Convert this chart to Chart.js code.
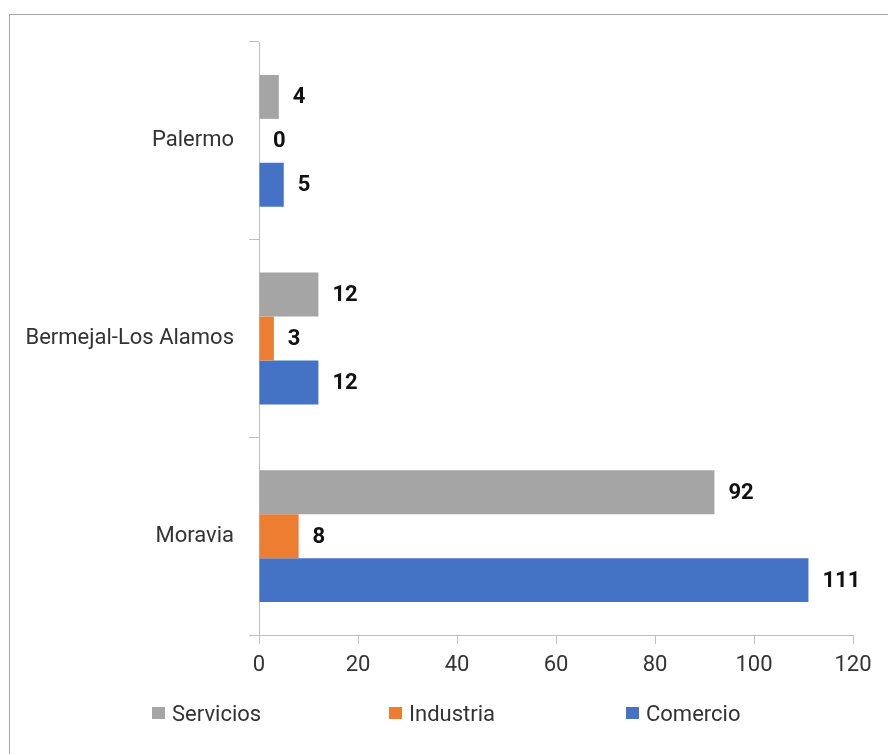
<!DOCTYPE html>
<html>
<head>
<meta charset="utf-8">
<script src="https://cdn.jsdelivr.net/npm/chart.js@4/dist/chart.umd.min.js"></script>
<style>
  html, body { margin: 0; padding: 0; background: #fff; }
  body { width: 888px; height: 754px; position: relative; overflow: hidden; font-family: Roboto, "Liberation Sans", sans-serif; }
  #frame { position: absolute; left: 9px; top: 14px; width: 900px; height: 760px; border: 1px solid #a6a6a6; box-sizing: border-box; }
  #wrap { position: absolute; left: 0; top: 0; width: 888px; height: 754px; }
  #legend { position: absolute; top: 700px; left: 0; width: 888px; height: 26px; }
  .item { position: absolute; top: 0; display: flex; align-items: center; height: 26px; font-size: 22px; color: #333; }
  .swatch { width: 13px; height: 12px; margin-right: 7px; }
</style>
</head>
<body>
<div id="frame"></div>
<div id="wrap"><canvas id="chart" width="888" height="754"></canvas></div>
<div id="legend"></div>
<script>
// Barrios (top to bottom) and the three sectors
const categories = ['Palermo', 'Bermejal-Los Alamos', 'Moravia'];
const seriesNames = ['Servicios', 'Industria', 'Comercio'];
const servicios = [4, 12, 92];
const industria = [0, 3, 8];
const comercio = [5, 12, 111];
const seriesColors = ['#A5A5A5', '#ED7D31', '#4472C4'];
const xTicks = [0, 20, 40, 60, 80, 100, 120];

const seriesValues = [servicios, industria, comercio];
const axisColor = '#bfbfbf';
const textColor = '#333333';
const fontFamily = 'Roboto, "Liberation Sans", sans-serif';

// Value labels drawn just past the end of every bar
const valueLabels = {
  id: 'valueLabels',
  afterDatasetsDraw(chart) {
    const ctx = chart.ctx;
    ctx.save();
    ctx.font = 'bold 22px ' + fontFamily;
    ctx.fillStyle = '#111';
    ctx.textAlign = 'left';
    ctx.textBaseline = 'middle';
    chart.data.datasets.forEach((ds, i) => {
      chart.getDatasetMeta(i).data.forEach((bar, j) => {
        ctx.fillText(String(ds.data[j]), bar.x + 14, bar.y + 1);
      });
    });
    ctx.restore();
  }
};

new Chart(document.getElementById('chart'), {
  type: 'bar',
  data: {
    labels: categories,
    datasets: seriesNames.map((name, i) => ({
      label: name,
      data: seriesValues[i],
      backgroundColor: seriesColors[i],
      borderWidth: 0,
      barPercentage: 1.0,
      categoryPercentage: 0.667
    }))
  },
  options: {
    indexAxis: 'y',
    responsive: false,
    animation: false,
    devicePixelRatio: 1,
    layout: { padding: { top: 42, right: 35, left: 0, bottom: 0 } },
    plugins: {
      legend: { display: false },
      tooltip: { enabled: false }
    },
    scales: {
      x: {
        min: 0,
        max: 120,
        afterBuildTicks(scale) { scale.ticks = xTicks.map(v => ({ value: v })); },
        afterFit(scale) { scale.height = 119; },
        grid: { drawOnChartArea: false, drawTicks: true, tickLength: 9, color: axisColor, lineWidth: 1 },
        border: { display: true, color: axisColor, width: 1 },
        ticks: { color: textColor, padding: 8, font: { family: fontFamily, size: 22 } }
      },
      y: {
        afterFit(scale) { scale.width = 259; },
        grid: { offset: true, drawOnChartArea: false, drawTicks: true, tickLength: 10, color: axisColor, lineWidth: 1 },
        border: { display: true, color: axisColor, width: 1 },
        ticks: { color: textColor, padding: 15, font: { family: fontFamily, size: 22 } }
      }
    }
  },
  plugins: [valueLabels]
});

// Legend row beneath the axis
const legend = document.getElementById('legend');
const legendLeft = [152, 389, 626];
seriesNames.forEach((name, i) => {
  const item = document.createElement('div');
  item.className = 'item';
  item.style.left = legendLeft[i] + 'px';
  const sw = document.createElement('span');
  sw.className = 'swatch';
  sw.style.background = seriesColors[i];
  const tx = document.createElement('span');
  tx.textContent = name;
  item.appendChild(sw);
  item.appendChild(tx);
  legend.appendChild(item);
});
</script>
</body>
</html>
